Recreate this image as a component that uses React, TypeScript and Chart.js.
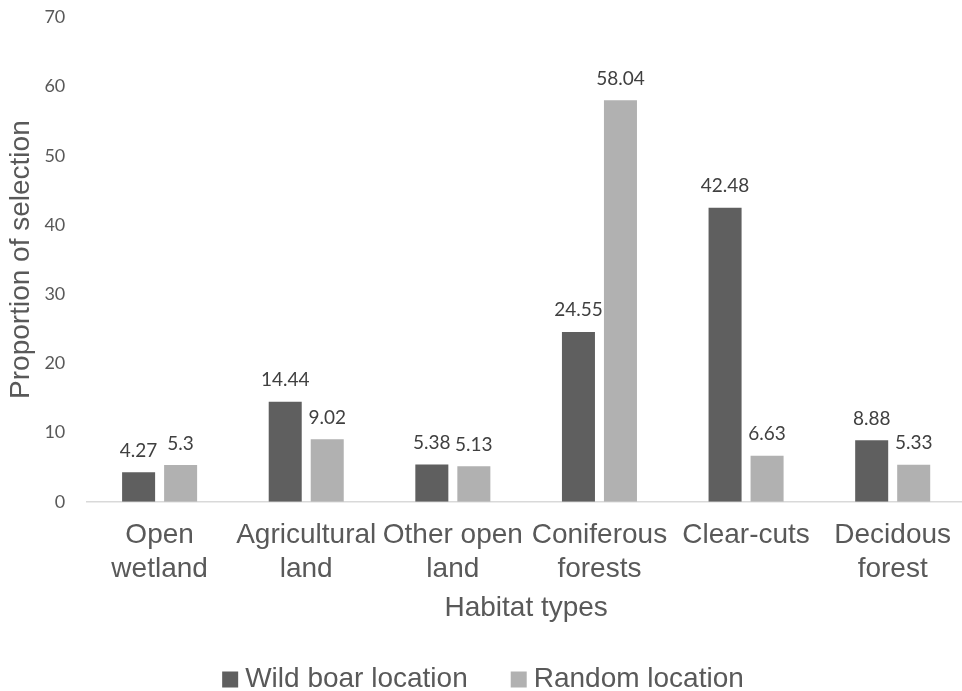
import React, { useEffect, useRef } from "react";
import { Chart, registerables } from "chart.js";

Chart.register(...registerables);

// Habitat categories (multi-line tick labels)
const habitats: string[][] = [
  ["Open", "wetland"],
  ["Agricultural", "land"],
  ["Other open", "land"],
  ["Coniferous", "forests"],
  ["Clear-cuts"],
  ["Decidous", "forest"],
];

const wildBoarLocation: number[] = [4.27, 14.44, 5.38, 24.55, 42.48, 8.88];
const randomLocation: number[] = [5.3, 9.02, 5.13, 58.04, 6.63, 5.33];

const seriesNames: string[] = ["Wild boar location", "Random location"];
const seriesColors: string[] = ["#5f5f5f", "#b1b1b1"];

const yTicks = { min: 0, max: 70, step: 10 };

const CANVAS_W = 966;
const CANVAS_H = 691;

const ARIAL = "'Liberation Sans', Arial, sans-serif";
const NUMFONT = "Lato, 'Open Sans', sans-serif";

// Axis box sizes
const X_AXIS_HEIGHT = 123;
const Y_AXIS_WIDTH = 86.3;

// Value labels above each bar
const valueLabels = {
  id: "valueLabels",
  afterDatasetsDraw(chart: any) {
    const ctx = chart.ctx;
    ctx.save();
    ctx.font = `19px ${NUMFONT}`;
    ctx.fillStyle = "#404040";
    ctx.textAlign = "center";
    ctx.textBaseline = "alphabetic";
    chart.data.datasets.forEach((ds: any, di: number) => {
      const meta = chart.getDatasetMeta(di);
      meta.data.forEach((el: any, i: number) => {
        ctx.fillText(String(ds.data[i]), el.x, el.y - 15.5);
      });
    });
    ctx.restore();
  },
};

// Legend row along the bottom edge
const bottomLegend = {
  id: "bottomLegend",
  afterDraw(chart: any) {
    const ctx = chart.ctx;
    ctx.save();
    ctx.font = `28px ${ARIAL}`;
    ctx.textBaseline = "alphabetic";
    const box = 16;
    const gapText = 7;
    const gapItem = 43;
    const items = chart.data.datasets.map((ds: any) => ({
      label: ds.label as string,
      color: ds.backgroundColor as string,
      w: ctx.measureText(ds.label).width,
    }));
    const total = items.reduce(
      (s: number, it: any, i: number) => s + box + gapText + it.w + (i > 0 ? gapItem : 0),
      0
    );
    let x = chart.width / 2 - total / 2;
    const baseline = 687;
    items.forEach((it: any, i: number) => {
      if (i > 0) x += gapItem;
      ctx.fillStyle = it.color;
      ctx.fillRect(x, baseline - 15.5, box, box);
      x += box + gapText;
      ctx.fillStyle = "#595959";
      ctx.fillText(it.label, x, baseline);
      x += it.w;
    });
    ctx.restore();
  },
};

export default function App() {
  const canvasRef = useRef<HTMLCanvasElement | null>(null);

  useEffect(() => {
    if (!canvasRef.current) return;
    const chart = new Chart(canvasRef.current, {
      type: "bar",
      data: {
        labels: habitats,
        datasets: [
          {
            label: seriesNames[0],
            data: wildBoarLocation,
            backgroundColor: seriesColors[0],
            categoryPercentage: 0.573,
            barPercentage: 0.786,
          },
          {
            label: seriesNames[1],
            data: randomLocation,
            backgroundColor: seriesColors[1],
            categoryPercentage: 0.573,
            barPercentage: 0.786,
          },
        ],
      },
      options: {
        responsive: false,
        animation: false,
        layout: { padding: { top: 17.5, right: 0, bottom: 66.3, left: 0 } },
        plugins: {
          legend: { display: false },
          tooltip: { enabled: false },
        },
        scales: {
          x: {
            grid: { display: false, drawTicks: false },
            border: { display: true, color: "#d9d9d9", width: 1.5 },
            ticks: {
              color: "#595959",
              font: { family: ARIAL, size: 28, lineHeight: 1.2 },
              padding: 17,
              maxRotation: 0,
              autoSkip: false,
            },
            title: {
              display: true,
              text: "Habitat types",
              color: "#595959",
              font: { family: ARIAL, size: 28, lineHeight: 1.2 },
              padding: { top: 6.3, bottom: 0 },
            },
            afterFit: (scale: any) => {
              scale.height = X_AXIS_HEIGHT;
              scale.paddingLeft = 0;
              scale.paddingRight = 0;
            },
          },
          y: {
            min: yTicks.min,
            max: yTicks.max,
            grid: { display: false, drawTicks: false },
            border: { display: false },
            ticks: {
              stepSize: yTicks.step,
              color: "#595959",
              font: { family: NUMFONT, size: 18 },
              padding: 21,
            },
            title: {
              display: true,
              text: "Proportion of selection",
              color: "#595959",
              font: { family: ARIAL, size: 28, lineHeight: 1.2 },
              padding: { top: 4, bottom: 9 },
            },
            afterFit: (scale: any) => {
              scale.width = Y_AXIS_WIDTH;
              scale.paddingTop = 0;
              scale.paddingBottom = 0;
            },
          },
        },
      },
      plugins: [valueLabels, bottomLegend],
    });
    return () => chart.destroy();
  }, []);

  return (
    <div
      style={{
        position: "fixed",
        left: 0,
        top: 0,
        width: CANVAS_W,
        height: CANVAS_H,
        background: "#ffffff",
      }}
    >
      <canvas
        ref={canvasRef}
        width={CANVAS_W}
        height={CANVAS_H}
        style={{ width: CANVAS_W, height: CANVAS_H, display: "block" }}
      />
    </div>
  );
}
